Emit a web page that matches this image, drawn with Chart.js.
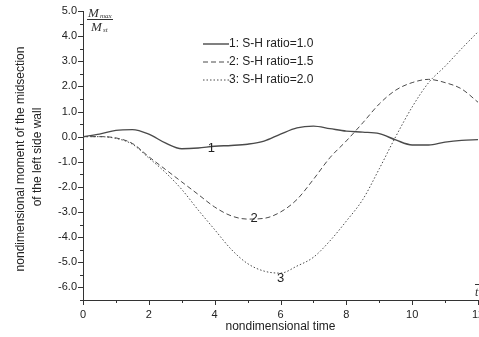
<!DOCTYPE html>
<html>
<head>
<meta charset="utf-8">
<script src="https://cdn.jsdelivr.net/npm/chart.js@4.4.1/dist/chart.umd.min.js"></script>
<style>
  html, body { margin: 0; padding: 0; background: #fff; }
  #wrap { width: 479px; height: 337px; }
</style>
</head>
<body>
<div id="wrap"><canvas id="myChart" width="479" height="337"></canvas></div>
<script>
'use strict';
//--------------------DATA

// nondimensional time (x axis)
let times = [0, 0.5, 1, 1.5, 2, 2.5, 3, 3.5, 4, 4.5, 5, 5.5, 6, 6.5, 7, 7.5, 8, 8.5, 9, 9.5, 10, 10.5, 11, 11.5, 12];

// M_max / M_st for each S-H ratio
let ratio10 = [0, 0.1, 0.25, 0.28, 0.1, -0.25, -0.48, -0.45, -0.38, -0.35, -0.3, -0.18, 0.1, 0.35, 0.42, 0.32, 0.22, 0.18, 0.12, -0.13, -0.33, -0.33, -0.22, -0.15, -0.12];
let ratio15 = [0, 0, -0.05, -0.27, -0.8, -1.3, -1.8, -2.3, -2.8, -3.15, -3.28, -3.25, -3.0, -2.5, -1.7, -0.84, -0.17, 0.55, 1.3, 1.85, 2.15, 2.28, 2.15, 1.9, 1.37];
let ratio20 = [0, 0, -0.07, -0.3, -0.85, -1.42, -2.1, -2.92, -3.7, -4.48, -5.05, -5.35, -5.43, -5.15, -4.8, -4.15, -3.36, -2.5, -1.28, 0, 1.18, 2.15, 2.8, 3.5, 4.17];

let seriesNames = ['1: S-H ratio=1.0', '2: S-H ratio=1.5', '3: S-H ratio=2.0'];
let curveTags = ['1', '2', '3'];
let yTitleLines = ['nondimensional moment of the midsection', 'of the left side wall'];

// x / y tick values that get a label
let xTickLabels = [0, 2, 4, 6, 8, 10, 12];
let yTickLabels = [5, 4, 3, 2, 1, 0, -1, -2, -3, -4, -5, -6];

//--------------------FUNCTIONS

function toPoints(values) {
  let pts = [];
  for (let i = 0; i < times.length; i++) {
    pts.push({ x: times[i], y: values[i] });
  }
  return pts;
}

const lineColor = '#4a4a4a';
const sans = '"Liberation Sans", Arial, sans-serif';
const dashes = [[], [5, 3], [1.5, 2]];

// minor/major ticks, legend, curve tags, y title and the M_max/M_st label
const extras = {
  id: 'extras',
  afterDraw(chart) {
    const ctx = chart.ctx;
    const xs = chart.scales.x;
    const ys = chart.scales.y;
    const area = chart.chartArea;
    ctx.save();
    ctx.strokeStyle = '#333';
    ctx.lineWidth = 1;
    // x ticks (outward)
    for (let v = 0; v <= 12; v++) {
      let px = Math.round(xs.getPixelForValue(v)) + 0.5;
      let len = v % 2 === 0 ? 5 : 3;
      ctx.beginPath();
      ctx.moveTo(px, area.bottom);
      ctx.lineTo(px, area.bottom + len);
      ctx.stroke();
    }
    // y ticks (outward)
    for (let v = -6.5; v <= 5.001; v += 0.5) {
      let py = Math.round(ys.getPixelForValue(v)) + 0.5;
      let len = Number.isInteger(v) ? 5 : 3;
      ctx.beginPath();
      ctx.moveTo(area.left, py);
      ctx.lineTo(area.left - len, py);
      ctx.stroke();
    }

    // y axis title, two rotated lines
    ctx.save();
    ctx.fillStyle = '#222';
    ctx.font = '12px ' + sans;
    ctx.textAlign = 'center';
    ctx.textBaseline = 'middle';
    ctx.translate(21, 159);
    ctx.rotate(-Math.PI / 2);
    ctx.fillText(yTitleLines[0], 0, 0);
    ctx.fillText(yTitleLines[1], 2, 16.5);
    ctx.restore();

    // legend
    ctx.font = '12px ' + sans;
    ctx.fillStyle = '#222';
    ctx.textBaseline = 'middle';
    for (let i = 0; i < seriesNames.length; i++) {
      let y = 44 + i * 18;
      ctx.save();
      ctx.strokeStyle = lineColor;
      ctx.lineWidth = i === 0 ? 1.4 : 1;
      ctx.setLineDash(dashes[i]);
      ctx.beginPath();
      ctx.moveTo(203, y);
      ctx.lineTo(229, y);
      ctx.stroke();
      ctx.restore();
      ctx.fillText(seriesNames[i], 229, y);
    }

    // curve tags
    ctx.font = '13px ' + sans;
    ctx.textAlign = 'center';
    let tagPos = [[3.9, -0.45], [5.2, -3.25], [6.0, -5.65]];
    for (let i = 0; i < curveTags.length; i++) {
      ctx.fillText(curveTags[i], xs.getPixelForValue(tagPos[i][0]), ys.getPixelForValue(tagPos[i][1]));
    }

    // M_max / M_st
    ctx.textAlign = 'left';
    ctx.textBaseline = 'alphabetic';
    ctx.fillStyle = '#333';
    ctx.font = 'italic 13px "Liberation Serif", serif';
    ctx.fillText('M', 88, 17);
    ctx.fillText('M', 91, 31);
    ctx.font = 'italic 7px "Liberation Serif", serif';
    ctx.fillText('max', 100, 18);
    ctx.fillText('st', 103, 32);
    ctx.beginPath();
    ctx.moveTo(87, 19.5);
    ctx.lineTo(113, 19.5);
    ctx.stroke();

    // t-bar at the right end of the time axis
    ctx.font = 'italic 12px "Liberation Serif", serif';
    ctx.fillText('t', 475, 296);
    ctx.beginPath();
    ctx.moveTo(475, 284.5);
    ctx.lineTo(480, 284.5);
    ctx.stroke();
    ctx.restore();
  }
};

//--------------------CHART

const data = {
  datasets: [
    {
      label: seriesNames[0],
      data: toPoints(ratio10),
      borderColor: lineColor,
      borderWidth: 1.4,
    },
    {
      label: seriesNames[1],
      data: toPoints(ratio15),
      borderColor: lineColor,
      borderWidth: 1,
      borderDash: dashes[1],
    },
    {
      label: seriesNames[2],
      data: toPoints(ratio20),
      borderColor: lineColor,
      borderWidth: 1,
      borderDash: dashes[2],
    },
  ],
};

const config = {
  type: 'line',
  data: data,
  plugins: [extras],
  options: {
    responsive: false,
    animation: false,
    layout: { padding: { top: 11, right: 1, left: 0, bottom: 0 } },
    elements: {
      point: { radius: 0 },
      line: { cubicInterpolationMode: 'monotone', fill: false },
    },
    plugins: {
      legend: { display: false },
      tooltip: { enabled: false },
    },
    scales: {
      x: {
        type: 'linear',
        min: 0,
        max: 12,
        afterFit: (scale) => {
          scale.height = 37;
          scale.paddingLeft = 0;
          scale.paddingRight = 0;
        },
        afterBuildTicks: (scale) => {
          scale.ticks = xTickLabels.map(v => ({ value: v }));
        },
        grid: { display: false, drawTicks: false },
        border: { display: true, color: '#333', width: 1 },
        ticks: {
          padding: 8,
          color: '#222',
          font: { family: sans, size: 11 },
          maxRotation: 0,
          callback: (v) => String(v),
        },
        title: {
          display: true,
          text: 'nondimensional time',
          color: '#222',
          font: { family: sans, size: 12 },
          padding: { top: 0, bottom: 3 },
        },
      },
      y: {
        type: 'linear',
        min: -6.5,
        max: 5,
        afterFit: (scale) => {
          scale.width = 83;
          scale.paddingTop = 0;
          scale.paddingBottom = 0;
        },
        afterBuildTicks: (scale) => {
          scale.ticks = yTickLabels.map(v => ({ value: v }));
        },
        grid: { display: false, drawTicks: false },
        border: { display: true, color: '#333', width: 1 },
        ticks: {
          padding: 6,
          color: '#222',
          font: { family: sans, size: 11 },
          callback: (v) => Number(v).toFixed(1),
        },
      },
    },
  },
};

const myChart = new Chart(document.getElementById('myChart'), config);
</script>
</body>
</html>
